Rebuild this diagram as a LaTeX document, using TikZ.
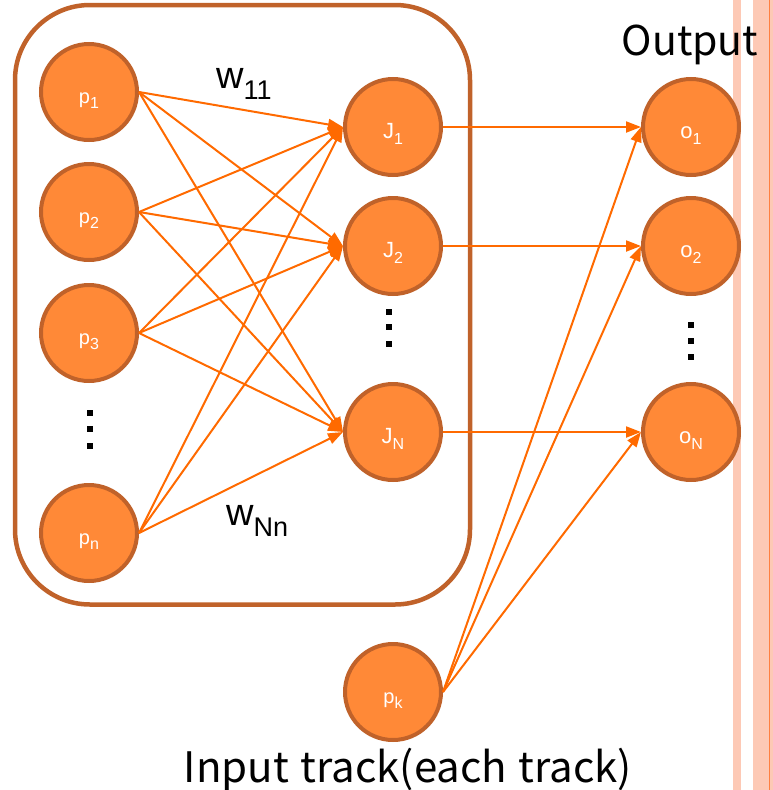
\documentclass[tikz,border=0pt]{standalone}
\usepackage{fontspec}
\setmainfont{Liberation Sans}
\newfontfamily\jpfont{Noto Sans CJK JP}
\usetikzlibrary{arrows.meta}
\definecolor{nodefill}{RGB}{255,137,55}
\definecolor{nodeedge}{RGB}{192,98,42}
\definecolor{arr}{RGB}{255,106,0}
\definecolor{stripe}{RGB}{253,201,181}
\definecolor{stripeline}{RGB}{255,128,64}
\newcommand\lblsub[1]{\raisebox{-0.28em}{\fontsize{16}{16}\selectfont #1}}
\newcommand\wsub[1]{\raisebox{-11pt}{\fontsize{27}{27}\selectfont #1}}
\begin{document}
\begin{tikzpicture}[x=1pt,y=-1pt,
  neuron/.style={circle, fill=nodefill, draw=nodeedge, line width=4pt,
    minimum size=96pt, inner sep=0pt, text=white,
    font=\fontsize{20}{20}\selectfont, text height=22pt, text depth=0pt},
  jneuron/.style={neuron, font=\fontsize{22}{22}\selectfont},
  conn/.style={draw=arr, line width=2pt, -{Triangle[length=15pt,width=11pt]}},
  frame/.style={draw=nodeedge, line width=4.5pt, rounded corners=75pt,
    minimum width=455pt, minimum height=599.5pt, inner sep=0pt},
  bigtext/.style={font=\jpfont\fontsize{41}{41}\selectfont, inner sep=0pt, anchor=base},
  wtext/.style={font=\fontsize{38}{38}\selectfont, inner sep=0pt, anchor=base west},
  vdot/.style={fill=black}
]
\useasboundingbox (0,0) rectangle (773,790);
% right stripes
\fill[stripe] (733,0) rectangle (741,790);
\fill[stripe] (753,0) rectangle (773,790);
\draw[stripeline, line width=1.6pt] (769.3,0) -- (769.3,790);
% frame
\node[frame] (box) at (242.5,304.75) {};
% neurons
\node[neuron] (p1) at (89,92) {p\lblsub{1}};
\node[neuron] (p2) at (89,212) {p\lblsub{2}};
\node[neuron] (p3) at (89,333) {p\lblsub{3}};
\node[neuron] (pn) at (89,533) {p\lblsub{n}};
\node[jneuron] (J1) at (393,127) {J\lblsub{1}};
\node[jneuron] (J2) at (393,246) {J\lblsub{2}};
\node[jneuron] (JN) at (393,432) {J\lblsub{N}};
\node[jneuron] (o1) at (691,127) {o\lblsub{1}};
\node[jneuron] (o2) at (691,246) {o\lblsub{2}};
\node[jneuron] (oN) at (691,432) {o\lblsub{N}};
\node[neuron] (pk) at (393,692) {p\lblsub{k}};
% vertical dots
\foreach \y in {410,426,443} \fill[vdot] (87,\y) rectangle ++(6,6);
\foreach \y in {309,324,341} \fill[vdot] (386,\y) rectangle ++(6,6);
\foreach \y in {322,338,354} \fill[vdot] (688,\y) rectangle ++(6,6);
% connections
\foreach \s in {p1,p2,p3,pn}
  \foreach \t in {J1,J2,JN}
    \draw[conn] (\s.east) -- (\t.west);
\foreach \s/\t in {J1/o1,J2/o2,JN/oN}
  \draw[conn] (\s.east) -- (\t.west);
\foreach \t in {o1,o2,oN}
  \draw[conn] (pk.east) -- (\t.west);
% texts
\node[wtext] (w11) at (216,88) {w\wsub{11}};
\node[wtext] (wNn) at (226,525) {w\wsub{Nn}};
\node[bigtext] (out) at (690,55) {Output};
\node[bigtext, font=\jpfont\fontsize{42}{42}\selectfont, align=center] (inp) at (408,782) {Input\hspace{2pt} track(each\hspace{2pt} track)};
\end{tikzpicture}
\end{document}
